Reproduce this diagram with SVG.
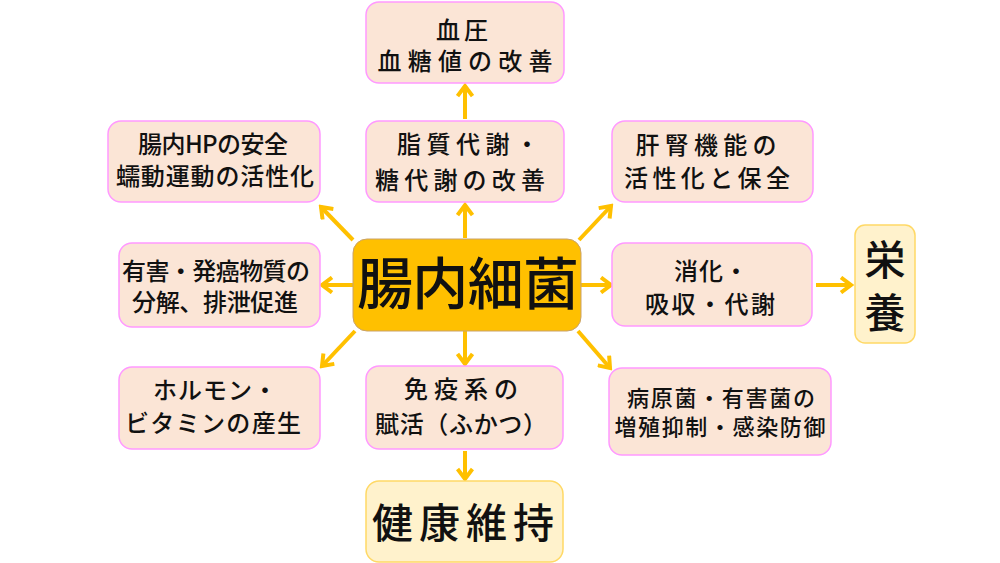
<svg xmlns="http://www.w3.org/2000/svg" width="1000" height="563" viewBox="0 0 1000 563">
<defs>
<style>
.box{fill:#FBE5D6;stroke:#FF99FF;stroke-width:1.5}
.yel{fill:#FFF2CC;stroke:#FFD966;stroke-width:1.5}
.core{fill:#FFC000;stroke:#C9A26A;stroke-width:1}
text{font-family:"Noto Sans CJK JP","Noto Sans CJK SC",sans-serif;fill:#111;text-anchor:middle;font-weight:500}
.t{font-size:24px}
.ts{font-size:22px}
.big{font-size:56px}
.lg{font-size:41px}
.arr{stroke:#FFC000;stroke-width:4;fill:none;marker-end:url(#ah)}
</style>
<marker id="ah" markerUnits="userSpaceOnUse" markerWidth="18" markerHeight="18" viewBox="0 0 18 18" refX="15" refY="9" orient="auto">
<path d="M5,1.5 L15,9 L5,16.5" fill="none" stroke="#FFC000" stroke-width="4"/>
</marker>
</defs>
<g id="connectors">
<line class="arr" x1="465" y1="119" x2="465" y2="86"/>
<line class="arr" x1="465" y1="238" x2="465" y2="205"/>
<line class="arr" x1="353" y1="240" x2="321" y2="207"/>
<line class="arr" x1="579" y1="240" x2="611" y2="206"/>
<line class="arr" x1="353" y1="285" x2="322" y2="285"/>
<line class="arr" x1="581" y1="285" x2="611" y2="285"/>
<line class="arr" x1="355" y1="331" x2="322" y2="366"/>
<line class="arr" x1="578" y1="331" x2="610" y2="368"/>
<line class="arr" x1="465" y1="331" x2="465" y2="364"/>
<line class="arr" x1="465" y1="451" x2="465" y2="479"/>
<line class="arr" x1="816" y1="285" x2="851" y2="285"/>
</g>
<g id="n-bp">
<rect class="box" x="366" y="2" width="198" height="81" rx="13"/>
<text class="t" x="462" y="39" textLength="52">血圧</text>
<text class="t" x="465" y="70" textLength="175">血糖値の改善</text>
</g>
<g id="n-lipid">
<rect class="box" x="366" y="121" width="198" height="81" rx="13"/>
<text class="t" x="468" y="153" textLength="142">脂質代謝・</text>
<text class="t" x="460" y="189" textLength="170">糖代謝の改善</text>
</g>
<g id="n-hp">
<rect class="box" x="108" y="121" width="212" height="81" rx="13"/>
<text class="t" x="213" y="153" textLength="150">腸内HPの安全</text>
<text class="t" x="215" y="185" textLength="198">蠕動運動の活性化</text>
</g>
<g id="n-liver">
<rect class="box" x="612" y="121" width="201" height="81" rx="13"/>
<text class="t" x="706" y="154" textLength="141">肝腎機能の</text>
<text class="t" x="707" y="187" textLength="166">活性化と保全</text>
</g>
<g id="n-core">
<rect class="core" x="353" y="239" width="228" height="92" rx="14"/>
<text class="big" x="468" y="304" textLength="222">腸内細菌</text>
</g>
<g id="n-digest">
<rect class="box" x="612" y="243" width="200" height="83" rx="13"/>
<text class="t" x="711" y="280" textLength="74">消化・</text>
<text class="t" x="710" y="313" textLength="130">吸収・代謝</text>
</g>
<g id="n-nutrition">
<rect class="yel" x="855" y="225" width="60" height="118" rx="10"/>
<text class="lg" x="885" y="275">栄</text>
<text class="lg" x="885" y="328">養</text>
</g>
<g id="n-toxic">
<rect class="box" x="119" y="243" width="201" height="84" rx="13"/>
<text class="t" x="216" y="280" textLength="188">有害・発癌物質の</text>
<text class="t" x="215" y="311" textLength="166">分解、排泄促進</text>
</g>
<g id="n-hormone">
<rect class="box" x="119" y="367" width="201" height="82" rx="13"/>
<text class="t" x="215" y="399" textLength="124">ホルモン・</text>
<text class="t" x="213" y="432" textLength="176">ビタミンの産生</text>
</g>
<g id="n-immune">
<rect class="box" x="366" y="366" width="197" height="83" rx="13"/>
<text class="t" x="461" y="398" textLength="114">免疫系の</text>
<text class="t" x="461" y="433" textLength="172">賦活（ふかつ）</text>
</g>
<g id="n-pathogen">
<rect class="box" x="609" y="368" width="222" height="87" rx="13"/>
<text class="ts" x="721" y="406" textLength="188">病原菌・有害菌の</text>
<text class="ts" x="720" y="435" textLength="211">増殖抑制・感染防御</text>
</g>
<g id="n-health">
<rect class="yel" x="366" y="481" width="197" height="81" rx="13"/>
<text class="lg" x="463" y="538" textLength="182">健康維持</text>
</g>
</svg>
